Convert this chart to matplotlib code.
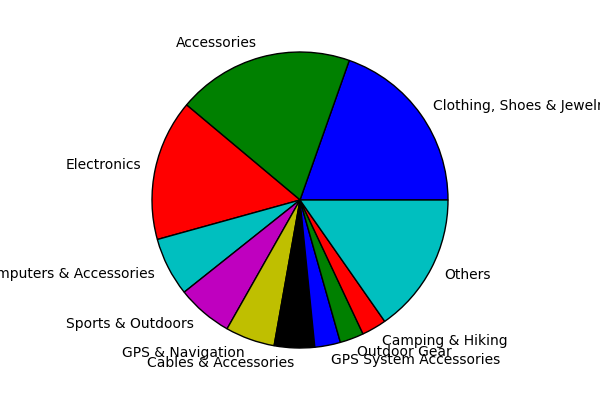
import matplotlib
matplotlib.use("Agg")
import matplotlib.pyplot as plt

categories = ["Clothing, Shoes & Jewelry", "Accessories", "Electronics",
              "Computers & Accessories", "Sports & Outdoors", "GPS & Navigation",
              "Cables & Accessories", "GPS System Accessories", "Outdoor Gear",
              "Camping & Hiking", "Others"]
values = [19.6, 19.3, 15.4, 6.4, 6.1, 5.4, 4.4, 2.8, 2.6, 2.7, 15.3]
colors = ['b', 'g', 'r', 'c', 'm', 'y', 'k', 'b', 'g', 'r', 'c']

fig = plt.figure(figsize=(6, 4), dpi=100)
ax = fig.add_axes([0, 0, 1, 1])
ax.pie(values, labels=categories, colors=colors, startangle=0,
       labeldistance=1.1,
       wedgeprops=dict(edgecolor='k', linewidth=1),
       textprops=dict(fontsize=10, family='DejaVu Sans'))
r = 148.0
ax.set_xlim(-300 / r, 300 / r)
ax.set_ylim(-200 / r, 200 / r)
ax.set_aspect('auto')
ax.axis('off')
fig.savefig("out.png", dpi=100)
